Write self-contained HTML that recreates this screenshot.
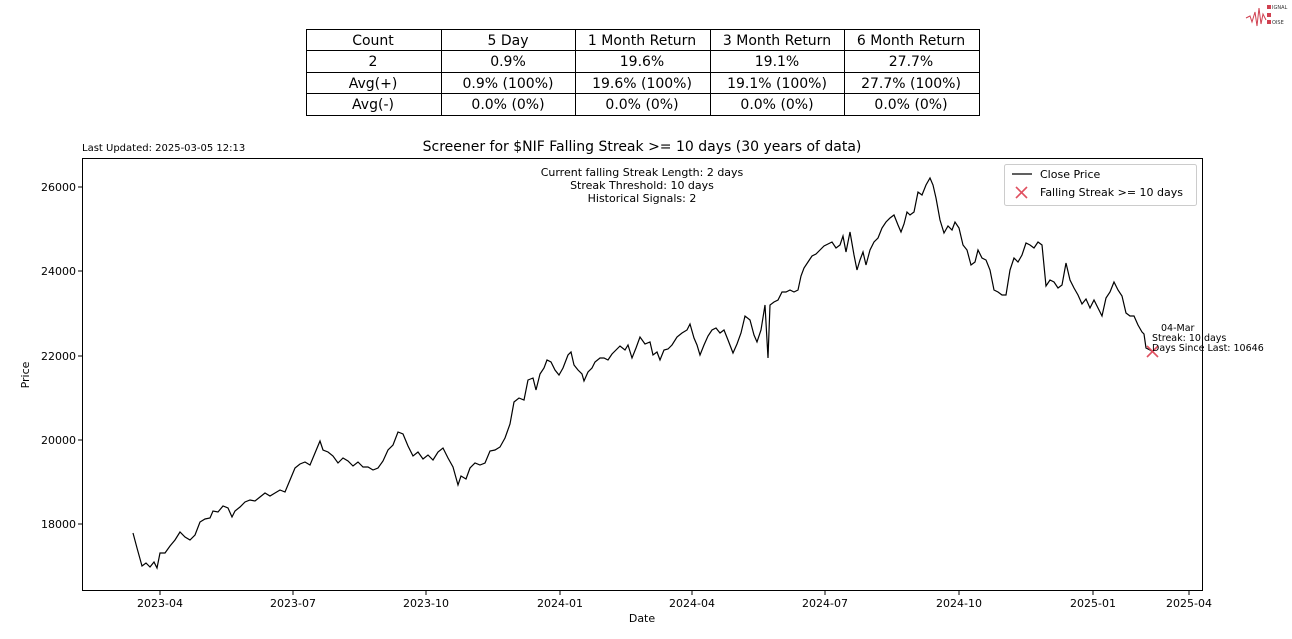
<!DOCTYPE html>
<html><head><meta charset="utf-8"><style>
body{margin:0;background:#fff;font-family:"Liberation Sans","DejaVu Sans",sans-serif;}
svg text{font-family:"DejaVu Sans","Liberation Sans",sans-serif;}
</style></head><body>
<svg width="1292" height="634" xmlns="http://www.w3.org/2000/svg">
<rect width="1292" height="634" fill="#fff"/>
<!-- table -->
<g stroke="#000" stroke-width="1" fill="none">
<rect x="306.5" y="29.5" width="673" height="86"/>
<line x1="306" y1="50.5" x2="979" y2="50.5"/><line x1="306" y1="72.5" x2="979" y2="72.5"/><line x1="306" y1="93.5" x2="979" y2="93.5"/>
<line x1="441.5" y1="29" x2="441.5" y2="115"/><line x1="575.5" y1="29" x2="575.5" y2="115"/><line x1="710.5" y1="29" x2="710.5" y2="115"/><line x1="844.5" y1="29" x2="844.5" y2="115"/>
</g>
<g font-size="14" text-anchor="middle" fill="#000">
<text x="373" y="45">Count</text><text x="508" y="45">5 Day</text><text x="642" y="45">1 Month Return</text><text x="777" y="45">3 Month Return</text><text x="911" y="45">6 Month Return</text>
<text x="373" y="66">2</text><text x="508" y="66">0.9%</text><text x="642" y="66">19.6%</text><text x="777" y="66">19.1%</text><text x="911" y="66">27.7%</text>
<text x="373" y="88">Avg(+)</text><text x="508" y="88">0.9% (100%)</text><text x="642" y="88">19.6% (100%)</text><text x="777" y="88">19.1% (100%)</text><text x="911" y="88">27.7% (100%)</text>
<text x="373" y="109">Avg(-)</text><text x="508" y="109">0.0% (0%)</text><text x="642" y="109">0.0% (0%)</text><text x="777" y="109">0.0% (0%)</text><text x="911" y="109">0.0% (0%)</text>
</g>
<!-- logo -->
<polyline points="1246,18 1250,16 1252,22 1255,12 1257,26 1259,8 1261,24 1263,14 1266,20" fill="none" stroke="#d04050" stroke-width="1"/>
<rect x="1267" y="5" width="4" height="4" fill="#d04050"/><rect x="1267" y="13" width="4" height="4" fill="#d04050"/><rect x="1267" y="20" width="4" height="4" fill="#d04050"/>
<text x="1272" y="9" font-size="5" fill="#333">IGNAL</text><text x="1272" y="24" font-size="5" fill="#333">OISE</text>
<!-- titles -->
<text x="82" y="151" font-size="10" fill="#000">Last Updated: 2025-03-05 12:13</text>
<text x="642" y="151" font-size="14" text-anchor="middle" fill="#000">Screener for $NIF Falling Streak &gt;= 10 days (30 years of data)</text>
<!-- axes -->
<rect x="82.5" y="158.5" width="1120" height="432" fill="none" stroke="#000" stroke-width="1"/>
<g font-size="11" fill="#000" text-anchor="end">
<text x="76" y="191">26000</text><text x="76" y="275">24000</text><text x="76" y="360">22000</text><text x="76" y="444">20000</text><text x="76" y="528">18000</text>
</g>
<g stroke="#000"><line x1="78" y1="187" x2="82" y2="187"/><line x1="78" y1="271" x2="82" y2="271"/><line x1="78" y1="356" x2="82" y2="356"/><line x1="78" y1="440" x2="82" y2="440"/><line x1="78" y1="524" x2="82" y2="524"/>
<line x1="160" y1="591" x2="160" y2="595"/><line x1="293" y1="591" x2="293" y2="595"/><line x1="426" y1="591" x2="426" y2="595"/><line x1="560" y1="591" x2="560" y2="595"/><line x1="692" y1="591" x2="692" y2="595"/><line x1="825" y1="591" x2="825" y2="595"/><line x1="959" y1="591" x2="959" y2="595"/><line x1="1093" y1="591" x2="1093" y2="595"/><line x1="1189" y1="591" x2="1189" y2="595"/></g>
<g font-size="11" fill="#000" text-anchor="middle">
<text x="160" y="607">2023-04</text><text x="293" y="607">2023-07</text><text x="426" y="607">2023-10</text><text x="560" y="607">2024-01</text><text x="692" y="607">2024-04</text><text x="825" y="607">2024-07</text><text x="959" y="607">2024-10</text><text x="1093" y="607">2025-01</text><text x="1189" y="607">2025-04</text>
<text x="642" y="622">Date</text>
</g>
<text x="0" y="0" font-size="11" text-anchor="middle" transform="translate(29,375) rotate(-90)">Price</text>
<g font-size="11" text-anchor="middle"><text x="642" y="176">Current falling Streak Length: 2 days</text><text x="642" y="189">Streak Threshold: 10 days</text><text x="642" y="202">Historical Signals: 2</text></g>
<polyline fill="none" stroke="#000" stroke-width="1.2" points="133,533 137,548 142,566 146,563 150,567 154,562 157,568 160,553 165,553 170,546 175,540 180,532 185,537 190,540 195,535 200,522 205,519 210,518 213,511 218,512 223,506 228,508 232,517 235,511 240,507 245,502 250,500 255,501 260,497 265,493 270,496 275,493 280,490 285,492 290,480 295,468 300,464 305,462 310,465 315,453 320,441 323,450 328,452 333,456 338,463 343,458 348,461 353,466 358,462 363,467 368,467 373,470 378,468 383,461 388,450 393,445 398,432 403,434 408,446 413,456 418,452 423,459 428,455 433,460 438,452 443,448 448,458 453,467 458,485 461,476 466,479 470,468 475,463 480,465 485,463 490,451 495,450 500,447 505,438 510,424 514,402 519,398 524,400 528,380 533,378 536,390 540,374 544,368 547,360 551,362 555,370 559,375 563,368 568,355 571,352 574,365 578,370 582,374 584,381 588,372 592,368 595,362 600,358 604,358 608,360 612,354 616,350 620,346 625,350 628,345 632,358 636,348 640,337 645,344 650,342 653,355 657,352 660,360 664,350 668,349 672,345 677,337 682,333 687,330 690,324 694,338 697,345 700,355 704,345 708,336 712,330 716,328 720,333 724,330 728,340 733,353 737,344 741,333 745,316 750,320 754,335 757,342 761,330 765,305 768,358 770,305 774,302 778,300 782,292 786,292 790,290 794,292 798,290 801,276 804,268 808,262 812,256 816,254 820,250 824,246 828,244 832,242 836,248 840,245 843,236 846,252 850,232 854,255 857,270 860,260 863,252 866,265 870,250 874,242 878,238 882,228 886,222 890,218 894,215 898,225 901,232 904,224 907,212 910,215 914,212 918,192 922,195 926,185 930,178 933,185 936,198 940,220 944,233 948,226 952,230 955,222 959,228 963,245 967,250 971,265 975,262 978,250 982,258 986,260 990,270 994,290 998,292 1002,295 1006,295 1010,270 1014,258 1018,262 1022,255 1026,243 1030,245 1034,248 1038,242 1042,245 1046,286 1050,280 1054,282 1058,288 1062,285 1066,263 1070,280 1074,288 1078,295 1082,304 1086,299 1090,308 1094,300 1098,308 1102,316 1106,298 1110,292 1114,282 1118,290 1122,296 1126,313 1130,316 1134,316 1138,325 1142,332 1144,334 1146,348 1150,350 1153,352"/>
<g stroke="#e05060" stroke-width="1.6"><line x1="1147" y1="346" x2="1158" y2="357"/><line x1="1147" y1="357" x2="1158" y2="346"/></g>
<g font-size="9.5" fill="#000"><text x="1161" y="331">04-Mar</text><text x="1152" y="341">Streak: 10 days</text><text x="1152" y="351">Days Since Last: 10646</text></g>
<!-- legend -->
<rect x="1004.5" y="164.5" width="192" height="41" rx="2" fill="#fff" stroke="#ccc"/>
<line x1="1012" y1="174" x2="1032" y2="174" stroke="#000" stroke-width="1.2"/>
<text x="1040" y="178" font-size="11">Close Price</text>
<g stroke="#e05060" stroke-width="1.6"><line x1="1016" y1="187" x2="1027" y2="198"/><line x1="1016" y1="198" x2="1027" y2="187"/></g>
<text x="1040" y="196" font-size="11">Falling Streak &gt;= 10 days</text>
</svg>
</body></html>
